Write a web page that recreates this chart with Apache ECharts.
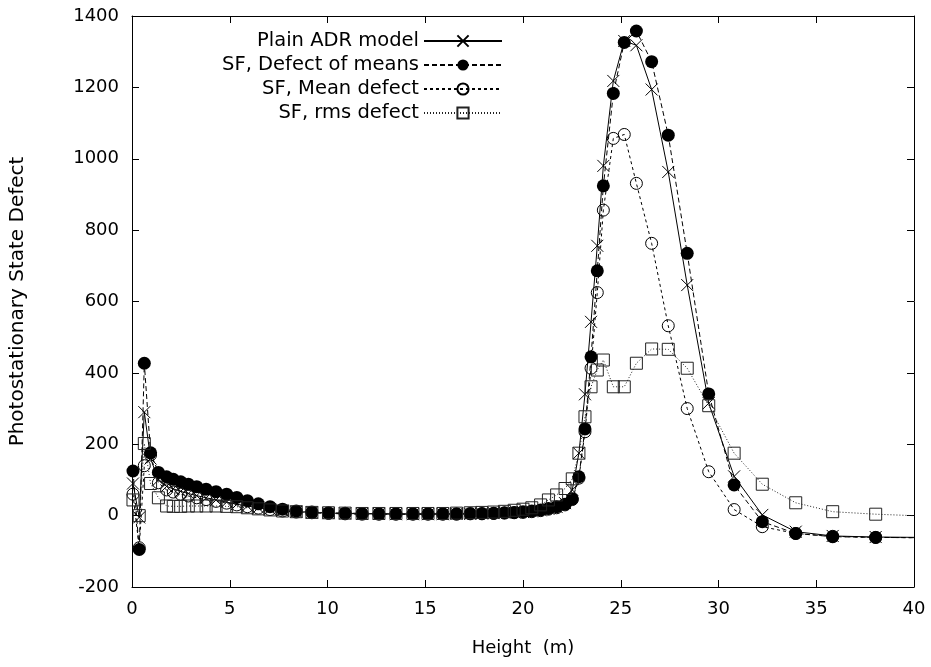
<!DOCTYPE html>
<html>
<head>
<meta charset="utf-8">
<script src="https://cdn.jsdelivr.net/npm/echarts@6/dist/echarts.min.js"></script>
<style>
html,body{margin:0;padding:0;background:#fff;}
#chart{width:931px;height:667px;}
</style>
</head>
<body>
<div id="chart"></div>
<script>
// Height (m)
const heights = [0.05, 0.37, 0.63, 0.95, 1.35, 1.77, 2.11, 2.49, 2.88, 3.31, 3.79, 4.3, 4.84, 5.36, 5.9, 6.46, 7.06, 7.7, 8.4, 9.2, 10.05, 10.9, 11.77, 12.63, 13.5, 14.37, 15.14, 15.9, 16.6, 17.3, 17.9, 18.5, 19.05, 19.55, 20.0, 20.45, 20.9, 21.3, 21.72, 22.15, 22.52, 22.86, 23.17, 23.48, 23.8, 24.11, 24.62, 25.18, 25.8, 26.58, 27.43, 28.4, 29.5, 30.8, 32.24, 33.95, 35.84, 38.04, 40.4];

const plainADR = [90, -5, 290, 160, 100, 82, 75, 68, 62, 56, 50, 44, 38, 32, 27, 22, 18, 14, 11, 9, 7, 6, 5, 5, 4, 4, 4, 4, 5, 5, 6, 7, 8, 9, 10, 12, 15, 19, 24, 35, 72, 175, 340, 543, 756, 980, 1218, 1330, 1318, 1194, 963, 646, 315, 110, 2, -45, -57, -60, -61];

const defectOfMeans = [125, -95, 427, 176, 121, 109, 102, 95, 88, 81, 74, 67, 60, 51, 42, 33, 25, 18, 13, 10, 8, 7, 6, 5, 5, 5, 5, 5, 5, 6, 6, 7, 8, 9, 11, 13, 16, 20, 25, 32, 47, 109, 243, 445, 686, 924, 1183, 1326, 1358, 1272, 1066, 735, 341, 86, -17, -50, -59, -61, -62];

const meanDefect = [60, -90, 140, 170, 92, 72, 66, 60, 55, 50, 45, 40, 35, 30, 25, 21, 17, 13, 10, 8, 6, 5, 4, 4, 4, 4, 4, 4, 4, 5, 5, 6, 7, 8, 9, 11, 14, 18, 22, 30, 45, 105, 235, 413, 625, 856, 1057, 1068, 931, 763, 532, 300, 123, 17, -31, -50, -58, -61, -62];

const rmsDefect = [44, 0, 202, 90, 50, 27, 26, 26, 27, 27, 27, 27, 26, 25, 22, 19, 16, 13, 11, 9, 8, 7, 6, 6, 6, 6, 6, 6, 7, 8, 9, 10, 12, 15, 18, 22, 30, 44, 58, 76, 103, 175, 277, 361, 408, 436, 361, 361, 427, 467, 466, 413, 308, 175, 88, 36, 11, 4, -1];

const seriesNames = ['Plain ADR model', 'SF, Defect of means', 'SF, Mean defect', 'SF, rms defect'];
const xTicks = {min: 0, max: 40, interval: 5};
const yTicks = {min: -200, max: 1400, interval: 200};
const xTitle = 'Height  (m)';
const yTitle = 'Photostationary State Defect';

const FONT = "'DejaVu Sans', 'Liberation Sans', Arial, sans-serif";
const FS = 18;
const pairs = ys => heights.map((h, i) => [h, ys[i]]);

function axisCommon(showLabels) {
  return {
    axisLine: {show: true, onZero: false, lineStyle: {color: '#000', width: 1}},
    axisTick: {show: true, inside: true, length: 7, lineStyle: {color: '#000', width: 1}},
    axisLabel: {show: showLabels, color: '#000', fontSize: FS, fontFamily: FONT, margin: 13,
      formatter: v => String(v)},
    splitLine: {show: false}
  };
}

const chart = echarts.init(document.getElementById('chart'), null, {renderer: 'canvas'});
chart.setOption({
  animation: false,
  backgroundColor: '#fff',
  textStyle: {fontFamily: FONT, color: '#000'},
  grid: {left: 132, right: 17, top: 16, bottom: 80, containLabel: false, outerBoundsMode: 'none'},
  legend: {
    data: seriesNames,
    orient: 'vertical',
    align: 'right',
    right: 428,
    top: 31,
    padding: 0,
    itemWidth: 78,
    itemHeight: 14,
    itemGap: 4,
    textStyle: {fontSize: 19.5, color: '#000', fontFamily: FONT},
    selectedMode: false
  },
  xAxis: [
    Object.assign({type: 'value', position: 'bottom', name: xTitle, nameLocation: 'middle', nameGap: 52,
      nameTextStyle: {fontSize: FS, color: '#000', fontFamily: FONT}}, xTicks, axisCommon(true)),
    Object.assign({type: 'value', position: 'top'}, xTicks, axisCommon(false))
  ],
  yAxis: [
    Object.assign({type: 'value', position: 'left', name: yTitle, nameLocation: 'middle', nameGap: 104,
      nameRotate: 90, nameTextStyle: {fontSize: 20, color: '#000', fontFamily: FONT}}, yTicks, axisCommon(true)),
    Object.assign({type: 'value', position: 'right'}, yTicks, axisCommon(false))
  ],
  series: [
    {
      name: seriesNames[0], type: 'line', data: pairs(plainADR), clip: true, silent: true,
      symbol: 'path://M0,0L10,10M0,10L10,0', symbolSize: 12, showAllSymbol: true,
      lineStyle: {color: '#000', width: 1, type: 'solid'},
      itemStyle: {color: 'rgba(0,0,0,0)', borderColor: '#000', borderWidth: 1}
    },
    {
      name: seriesNames[1], type: 'line', data: pairs(defectOfMeans), clip: true, silent: true,
      symbol: 'circle', symbolSize: 13, showAllSymbol: true,
      lineStyle: {color: '#000', width: 1, type: [5, 3]},
      itemStyle: {color: '#000', borderColor: '#000', borderWidth: 0}
    },
    {
      name: seriesNames[2], type: 'line', data: pairs(meanDefect), clip: true, silent: true,
      symbol: 'circle', symbolSize: 12, showAllSymbol: true,
      lineStyle: {color: '#000', width: 1, type: [3, 3]},
      itemStyle: {color: 'rgba(0,0,0,0)', borderColor: '#000', borderWidth: 1}
    },
    {
      name: seriesNames[3], type: 'line', data: pairs(rmsDefect), clip: true, silent: true,
      symbol: 'rect', symbolSize: 12, showAllSymbol: true,
      lineStyle: {color: '#222', width: 1, type: [1, 2]},
      itemStyle: {color: 'rgba(0,0,0,0)', borderColor: '#222', borderWidth: 1}
    }
  ]
});
</script>
</body>
</html>
